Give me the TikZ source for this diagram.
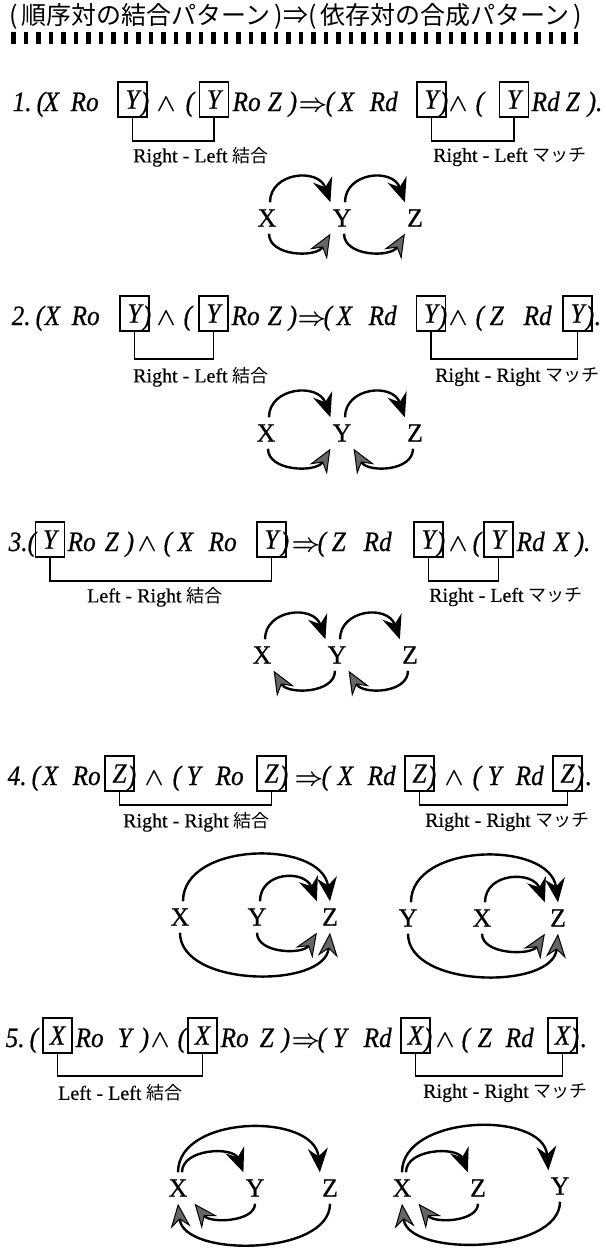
\documentclass[tikz,border=0pt]{standalone}
\usepackage{fontspec}
\setmainfont{Liberation Serif}
\newfontfamily\cjk{Noto Sans CJK JP}
\newfontfamily\fmfont{Liberation Serif}[FakeBold=0.6,FakeStretch=0.9]
\newfontfamily\labfont{Liberation Serif}[FakeBold=0.4]
\newfontfamily\cjklab{Noto Sans CJK JP}
\usetikzlibrary{arrows.meta,calc}
\newcommand\tokat[2]{\rlap{\hspace*{#1pt}#2}}
\newcommand\myand{{\fontsize{31}{32}\selectfont\mbox{\boldmath$\wedge$}}}
\newcommand\myimp{{\fontsize{24}{26}\selectfont\mbox{\boldmath$\Rightarrow$}}}
\newcommand\jp[1]{{\cjklab\fontsize{18}{20}\selectfont #1}}
\begin{document}
\begin{tikzpicture}[x=1pt,y=-1pt,
  ftxt/.style={anchor=base west, inner sep=0pt, font=\fmfont\fontsize{28}{30}\selectfont\itshape},
  ybox/.style={draw, line width=1.7pt, minimum width=29pt, minimum height=35pt, inner sep=0pt, font=\fmfont\fontsize{28}{30}\selectfont\itshape},
  brk/.style={line width=1.7pt},
  lab/.style={anchor=west, inner sep=0pt, font=\labfont\fontsize{20}{22}\selectfont},
  vx/.style={inner xsep=2pt, inner ysep=7pt, font=\labfont\fontsize{26}{28}\selectfont},
  arc/.style={line width=2.4pt, -{Stealth[length=24pt,width=20pt,inset=8pt]}},
  harc/.style={line width=2.4pt, -{Stealth[length=24pt,width=20pt,inset=8pt,fill=black!60,line width=1pt]}},
]
\fill[white] (0,0) rectangle (604,1250);
\useasboundingbox (0,0) rectangle (604,1250);
% header
\node[anchor=west, inner sep=0pt, font=\cjk\fontsize{25}{27}\selectfont] (hdr) at (9,16) {(\,順序対の結合パターン\,)⇒(\,依存対の合成パターン\,)};
\foreach \i in {0,...,45} \fill ({11+\i*12.5},32) rectangle +(4.5,12);

% ---------- line 1
\node[ftxt] (f1) at (0,111) {\tokat{12}{1.}\tokat{36}{(}\tokat{43}{X}\tokat{70}{Ro}\tokat{140}{)}\tokat{156}{\myand}\tokat{185}{(}\tokat{232}{Ro}\tokat{267}{Z}\tokat{288}{)}\tokat{298}{\myimp}\tokat{325}{(}\tokat{338}{X}\tokat{369}{Rd}\tokat{439}{)}\tokat{448}{\myand}\tokat{475}{(}\tokat{531}{Rd}\tokat{565}{Z}\tokat{587}{).}};
\node[ybox] (b11) at (132.5,99.5) {Y};
\node[ybox] (b12) at (214,99.5) {Y};
\node[ybox] (b13) at (431.5,99.5) {Y};
\node[ybox] (b14) at (514,99.5) {Y};
\draw[brk] (b11.south) -- ++(0,23) -| (b12.south);
\draw[brk] (b13.south) -- ++(0,23) -| (b14.south);
\node[lab] (l11) at (133,157) {Right - Left \jp{結合}};
\node[lab] (l12) at (433,157) {Right - Left \jp{マッチ}};

\node[vx] (g1x) at (267,218) {X};
\node[vx] (g1y) at (342,218) {Y};
\node[vx] (g1z) at (415,218) {Z};
\draw[arc] ([xshift=3pt]g1x.north) .. controls +(0,-30) and +(-12,-35) .. (g1y.north west);
\draw[arc] ([xshift=3pt]g1y.north) .. controls +(0,-30) and +(-12,-35) .. (g1z.north west);
\draw[harc] ([xshift=2pt]g1x.south) .. controls +(0,23) and +(-14,24) .. (g1y.south west);
\draw[harc] ([xshift=2pt]g1y.south) .. controls +(0,23) and +(-14,24) .. (g1z.south west);

% ---------- line 2
\node[ftxt] (f2) at (0,325) {\tokat{11}{2.}\tokat{35}{(}\tokat{44}{X}\tokat{71}{Ro}\tokat{142}{)}\tokat{156}{\myand}\tokat{183}{(}\tokat{231}{Ro}\tokat{267}{Z}\tokat{288}{)}\tokat{297}{\myimp}\tokat{323}{(}\tokat{336}{X}\tokat{368}{Rd}\tokat{438}{)}\tokat{448}{\myand}\tokat{475}{(}\tokat{489}{Z}\tokat{523}{Rd}\tokat{585}{)}\tokat{594}{.}};
\node[ybox] (b21) at (134.5,313.5) {Y};
\node[ybox] (b22) at (213.5,313.5) {Y};
\node[ybox] (b23) at (431,313.5) {Y};
\node[ybox] (b24) at (577.5,313.5) {Y};
\draw[brk] (b21.south) -- ++(0,27) -| (b22.south);
\draw[brk] (b23.south) -- ++(0,27) -| (b24.south);
\node[lab] (l21) at (133,377) {Right - Left \jp{結合}};
\node[lab] (l22) at (435,377) {Right - Right \jp{マッチ}};

\node[vx] (g2x) at (266,433) {X};
\node[vx] (g2y) at (342,433) {Y};
\node[vx] (g2z) at (415,433) {Z};
\draw[arc] ([xshift=3pt]g2x.north) .. controls +(0,-30) and +(-12,-35) .. (g2y.north west);
\draw[arc] ([xshift=3pt]g2y.north) .. controls +(0,-30) and +(-12,-35) .. (g2z.north west);
\draw[harc] ([xshift=2pt]g2x.south) .. controls +(0,23) and +(-14,24) .. (g2y.south west);
\draw[harc] ([xshift=-2pt]g2z.south) .. controls +(0,23) and +(14,24) .. (g2y.south east);

% ---------- line 3
\node[ftxt] (f3) at (0,551) {\tokat{8}{3.}\tokat{27}{(}\tokat{67}{Ro}\tokat{104}{Z}\tokat{125}{)}\tokat{137}{\myand}\tokat{163}{(}\tokat{177}{X}\tokat{208}{Ro}\tokat{280}{)}\tokat{291}{\myimp}\tokat{317}{(}\tokat{331}{Z}\tokat{363}{Rd}\tokat{436}{)}\tokat{448}{\myand}\tokat{472}{(}\tokat{516}{Rd}\tokat{553}{X}\tokat{575}{).}};
\node[ybox] (b31) at (50,539.5) {Y};
\node[ybox] (b32) at (271.5,539.5) {Y};
\node[ybox] (b33) at (428.5,539.5) {Y};
\node[ybox] (b34) at (498.5,539.5) {Y};
\draw[brk] (b31.south) -- ++(0,23) -| (b32.south);
\draw[brk] (b33.south) -- ++(0,23) -| (b34.south);
\node[lab] (l31) at (87,597) {Left - Right \jp{結合}};
\node[lab] (l32) at (429,597) {Right - Left \jp{マッチ}};

\node[vx] (g3x) at (262,655) {X};
\node[vx] (g3y) at (337,655) {Y};
\node[vx] (g3z) at (410,655) {Z};
\draw[arc] ([xshift=3pt]g3x.north) .. controls +(0,-30) and +(-12,-35) .. (g3y.north west);
\draw[arc] ([xshift=3pt]g3y.north) .. controls +(0,-30) and +(-12,-35) .. (g3z.north west);
\draw[harc] ([xshift=-2pt]g3y.south) .. controls +(0,23) and +(14,24) .. (g3x.south east);
\draw[harc] ([xshift=-2pt]g3z.south) .. controls +(0,23) and +(14,24) .. (g3y.south east);

% ---------- line 4
\node[ftxt] (f4) at (0,785) {\tokat{7}{4.}\tokat{31}{(}\tokat{42}{X}\tokat{72}{Ro}\tokat{127}{)}\tokat{144}{\myand}\tokat{172}{(}\tokat{186}{Y}\tokat{215}{Ro}\tokat{279}{)}\tokat{294}{\myimp}\tokat{321}{(}\tokat{337}{X}\tokat{367}{Rd}\tokat{427}{)}\tokat{444}{\myand}\tokat{472}{(}\tokat{487}{Y}\tokat{515}{Rd}\tokat{575}{)}\tokat{585}{.}};
\node[ybox] (b41) at (119.5,773.5) {Z};
\node[ybox] (b42) at (271.5,773.5) {Z};
\node[ybox] (b43) at (419.5,773.5) {Z};
\node[ybox] (b44) at (567.5,773.5) {Z};
\draw[brk] (b41.south) -- ++(0,13) -| (b42.south);
\draw[brk] (b43.south) -- ++(0,13) -| (b44.south);
\node[lab] (l41) at (123,822) {Right - Right \jp{結合}};
\node[lab] (l42) at (425,822) {Right - Right \jp{マッチ}};

\node[vx] (g4x) at (180,917) {X};
\node[vx] (g4y) at (257,917) {Y};
\node[vx] (g4z) at (330,917) {Z};
\draw[arc] ([xshift=3pt]g4x.north) .. controls +(0,-60) and +(-8,-62) .. (g4z.north);
\draw[arc] ([xshift=3pt]g4y.north) .. controls +(0,-30) and +(-12,-32) .. ([xshift=-3pt]g4z.north west);
\draw[harc] (g4y.south) .. controls +(0,21) and +(-14,22) .. ([xshift=-3pt]g4z.south west);
\draw[harc] (g4x.south) .. controls +(0,55) and +(-5,56) .. (g4z.south);

\node[vx] (g4b) at (408,918) {Y};
\node[vx] (g4a) at (482,918) {X};
\node[vx] (g4c) at (558,918) {Z};
\draw[arc] ([xshift=3pt]g4b.north) .. controls +(0,-60) and +(-8,-62) .. (g4c.north);
\draw[arc] ([xshift=3pt]g4a.north) .. controls +(0,-30) and +(-12,-32) .. ([xshift=-3pt]g4c.north west);
\draw[harc] (g4a.south) .. controls +(0,21) and +(-14,22) .. ([xshift=-3pt]g4c.south west);
\draw[harc] (g4b.south) .. controls +(0,55) and +(-5,56) .. (g4c.south);

% ---------- line 5
\node[ftxt] (f5) at (0,1047) {\tokat{5}{5.}\tokat{29}{(}\tokat{75}{Ro}\tokat{117}{Y}\tokat{140}{)}\tokat{150}{\myand}\tokat{177}{(}\tokat{220}{Ro}\tokat{259}{Z}\tokat{281}{)}\tokat{291}{\myimp}\tokat{317}{(}\tokat{332}{Y}\tokat{363}{Rd}\tokat{423}{)}\tokat{435}{\myand}\tokat{461}{(}\tokat{477}{Z}\tokat{505}{Rd}\tokat{570}{)}\tokat{580}{.}};
\node[ybox] (b51) at (57.5,1035.5) {X};
\node[ybox] (b52) at (202.5,1035.5) {X};
\node[ybox] (b53) at (415.5,1035.5) {X};
\node[ybox] (b54) at (562.5,1035.5) {X};
\draw[brk] (b51.south) -- ++(0,22) -| (b52.south);
\draw[brk] (b53.south) -- ++(0,22) -| (b54.south);
\node[lab] (l51) at (58,1093) {Left - Left \jp{結合}};
\node[lab] (l52) at (423,1093) {Right - Right \jp{マッチ}};

\node[vx] (g5x) at (178,1188) {X};
\node[vx] (g5y) at (255,1188) {Y};
\node[vx] (g5z) at (330,1188) {Z};
\draw[arc] ([xshift=4pt]g5x.north) .. controls +(0,-24) and +(-10,-26) .. (g5y.north west);
\draw[arc] (g5x.north) .. controls +(0,-58) and +(-5,-60) .. (g5z.north west);
\draw[harc] (g5y.south) .. controls +(0,18) and +(16,20) .. ([xshift=5pt]g5x.south east);
\draw[harc] (g5z.south) .. controls +(0,52) and +(6,54) .. (g5x.south);

\node[vx] (g5a) at (402,1188) {X};
\node[vx] (g5c) at (478,1188) {Z};
\node[vx] (g5b) at (560,1186) {Y};
\draw[arc] ([xshift=4pt]g5a.north) .. controls +(0,-24) and +(-10,-26) .. (g5c.north west);
\draw[arc] (g5a.north) .. controls +(0,-58) and +(-5,-60) .. (g5b.north west);
\draw[harc] (g5c.south) .. controls +(0,18) and +(16,20) .. ([xshift=5pt]g5a.south east);
\draw[harc] (g5b.south) .. controls +(0,52) and +(6,54) .. (g5a.south);
\end{tikzpicture}
\end{document}
